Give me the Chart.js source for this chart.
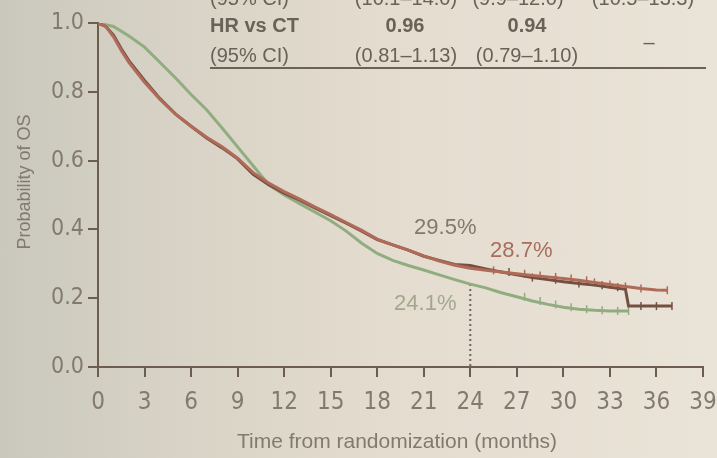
<!DOCTYPE html>
<html>
<head>
<meta charset="utf-8">
<script src="https://cdn.jsdelivr.net/npm/chart.js@4"></script>
<style>
html, body { margin: 0; padding: 0; }
body {
  width: 717px; height: 458px; overflow: hidden;
  background: linear-gradient(90deg, #cac8bd 0%, #d8d3c6 25%, #e4dccf 55%, #eae3d7 100%);
}
canvas { display: block; }
</style>
</head>
<body>
<canvas id="km" width="717" height="458"></canvas>
<script>
// Kaplan-Meier OS (months, probability)
const timeDark = [0, 0.5, 1, 1.5, 2, 3, 4, 5, 6, 7, 8, 9, 10, 11, 12, 13, 14, 15, 16, 17, 18, 19, 20, 21, 22, 23, 24, 25, 26, 27, 28, 29, 30, 31, 32, 33, 34, 34.2, 37];
const survDark = [1.0, 0.99, 0.965, 0.925, 0.89, 0.833, 0.78, 0.735, 0.70, 0.666, 0.637, 0.605, 0.56, 0.53, 0.505, 0.485, 0.462, 0.44, 0.418, 0.395, 0.37, 0.355, 0.34, 0.322, 0.31, 0.298, 0.295, 0.285, 0.276, 0.268, 0.26, 0.254, 0.248, 0.243, 0.238, 0.232, 0.226, 0.177, 0.177];

const timeRed = [0, 0.5, 1, 1.5, 2, 3, 4, 5, 6, 7, 8, 9, 10, 11, 12, 13, 14, 15, 16, 17, 18, 19, 20, 21, 22, 23, 24, 25, 26, 27, 28, 29, 30, 31, 32, 33, 34, 35, 36, 36.7];
const survRed = [1.0, 0.99, 0.96, 0.92, 0.885, 0.828, 0.778, 0.735, 0.70, 0.668, 0.64, 0.607, 0.565, 0.535, 0.51, 0.488, 0.465, 0.443, 0.42, 0.397, 0.372, 0.355, 0.34, 0.323, 0.308, 0.296, 0.287, 0.281, 0.276, 0.271, 0.266, 0.262, 0.257, 0.252, 0.246, 0.24, 0.234, 0.228, 0.224, 0.223];

const timeCT = [0, 1, 2, 3, 4, 5, 6, 7, 8, 9, 10, 11, 12, 13, 14, 15, 16, 17, 18, 19, 20, 21, 22, 23, 24, 25, 26, 27, 28, 29, 30, 31, 32, 33, 34.2];
const survCT = [1.0, 0.99, 0.962, 0.93, 0.885, 0.84, 0.792, 0.748, 0.695, 0.64, 0.585, 0.53, 0.5, 0.475, 0.45, 0.425, 0.395, 0.36, 0.33, 0.31, 0.295, 0.282, 0.268, 0.254, 0.241, 0.23, 0.216, 0.204, 0.192, 0.182, 0.174, 0.168, 0.165, 0.163, 0.163];

// censoring ticks (months)
const censorDark = [26.5, 28, 29.5, 31, 32.5, 33.5, 35, 36, 37];
const censorRed = [25.5, 26.5, 27.5, 28.5, 29.5, 30.5, 31.5, 32, 33, 34, 35, 36.7];
const censorCT = [27.5, 28.5, 29.5, 30.5, 31.5, 32.5, 33.5, 34.2];

// 24-month landmark rates
const landmarkMonth = 24;
const rate24 = [29.5, 28.7, 24.1];

const xTicks = [0, 39, 3];
const yTicks = [0, 1, 0.2];

// header table
const hrLabel = 'HR vs CT';
const hrValues = ['0.96', '0.94', '–'];
const ciLabel = '(95% CI)';
const ciValues = ['(0.81–1.13)', '(0.79–1.10)'];
const medianCI = ['(10.1–14.0)', '(9.9–12.0)', '(10.5–13.3)'];

const axisColor = '#6d5d50';
const textColor = '#837a6e';
const darkColor = '#745043';
const redColor = '#b06a58';
const ctColor = '#91ad80';
const FONT = "'Liberation Sans', Arial, sans-serif";
const NARROW = "'Liberation Sans Narrow', 'DejaVu Sans Condensed', sans-serif";

const pts = (ts, ss) => ts.map((t, i) => ({ x: t, y: ss[i] }));
const stepAt = (ts, ss, t) => {
  let v = ss[0];
  ts.forEach((tt, i) => { if (tt <= t) v = ss[i]; });
  return v;
};
const censorPts = (cs, ts, ss) => cs.map(c => ({ x: c, y: stepAt(ts, ss, c) }));

const curve = (data, color) => ({
  data, borderColor: color, borderWidth: 3, pointRadius: 0, tension: 0, fill: false
});
const censor = (data, color) => ({
  data, showLine: false, pointStyle: 'line', rotation: 90, pointRadius: 4,
  borderColor: color, borderWidth: 1.5
});

const overlay = {
  id: 'overlay',
  afterDraw(chart) {
    const { ctx, scales: { x, y } } = chart;
    ctx.save();
    ctx.textBaseline = 'alphabetic';

    // header table (cut off at top of slide)
    ctx.fillStyle = '#6a6157';
    ctx.font = `20px ${FONT}`;
    ctx.textAlign = 'left';
    ctx.fillText(ciLabel, 210, 5);
    ctx.textAlign = 'center';
    [406, 518, 643].forEach((cx, i) => ctx.fillText(medianCI[i], cx, 5));

    ctx.font = `bold 20px ${FONT}`;
    ctx.textAlign = 'left';
    ctx.fillText(hrLabel, 210, 32);
    ctx.textAlign = 'center';
    ctx.fillText(hrValues[0], 405, 32);
    ctx.fillText(hrValues[1], 527, 32);
    ctx.font = `20px ${FONT}`;
    ctx.fillText(hrValues[2], 649, 49);

    ctx.textAlign = 'left';
    ctx.fillText(ciLabel, 210, 62);
    ctx.textAlign = 'center';
    ctx.fillText(ciValues[0], 406, 62);
    ctx.fillText(ciValues[1], 527, 62);

    ctx.strokeStyle = '#6a6157';
    ctx.lineWidth = 2;
    ctx.beginPath();
    ctx.moveTo(210, 68);
    ctx.lineTo(706, 68);
    ctx.stroke();

    // landmark labels
    ctx.font = `22px ${FONT}`;
    ctx.textAlign = 'center';
    ctx.textBaseline = 'middle';
    const lx = x.getPixelForValue(landmarkMonth);
    ctx.fillStyle = '#85786a';
    ctx.fillText(rate24[0] + '%', lx - 25, y.getPixelForValue(rate24[0] / 100) - 38);
    ctx.fillStyle = '#a86d5c';
    ctx.fillText(rate24[1] + '%', lx + 51, y.getPixelForValue(rate24[1] / 100) - 17);
    ctx.fillStyle = '#a3a78f';
    ctx.fillText(rate24[2] + '%', lx - 45, y.getPixelForValue(rate24[2] / 100) + 20);

    // axis titles
    ctx.fillStyle = textColor;
    ctx.font = `21px ${FONT}`;
    ctx.fillText('Time from randomization (months)', 397, 442);
    ctx.translate(25, 182);
    ctx.rotate(-Math.PI / 2);
    ctx.font = `18px ${FONT}`;
    ctx.fillText('Probability of OS', 0, 0);
    ctx.restore();
  }
};

new Chart(document.getElementById('km'), {
  type: 'line',
  data: {
    datasets: [
      curve(pts(timeRed, survRed), redColor),
      curve(pts(timeDark, survDark), darkColor),
      curve(pts(timeCT, survCT), ctColor),
      censor(censorPts(censorRed, timeRed, survRed), redColor),
      censor(censorPts(censorDark, timeDark, survDark), darkColor),
      censor(censorPts(censorCT, timeCT, survCT), ctColor),
      {
        data: [{ x: landmarkMonth, y: rate24[2] / 100 }, { x: landmarkMonth, y: 0 }],
        borderColor: '#6f655a', borderWidth: 2, borderDash: [2, 3], pointRadius: 0
      }
    ]
  },
  options: {
    responsive: false,
    animation: false,
    devicePixelRatio: 1,
    layout: { padding: { top: 23, right: 0, left: 0, bottom: 0 } },
    plugins: { legend: { display: false }, tooltip: { enabled: false } },
    scales: {
      x: {
        type: 'linear', min: xTicks[0], max: xTicks[1],
        ticks: { stepSize: xTicks[2], color: textColor, font: { family: NARROW, size: 24 }, padding: 11, maxRotation: 0 },
        grid: { drawOnChartArea: false, drawTicks: true, tickLength: 10, color: axisColor, lineWidth: 2 },
        border: { color: axisColor, width: 2 },
        afterFit: s => { s.height = 91; s.paddingRight = 14; s.paddingLeft = 0; }
      },
      y: {
        min: yTicks[0], max: yTicks[1],
        ticks: { stepSize: yTicks[2], color: textColor, font: { family: NARROW, size: 23 }, padding: 4,
                 callback: v => v.toFixed(1) },
        grid: { drawOnChartArea: false, drawTicks: true, tickLength: 10, color: axisColor, lineWidth: 2 },
        border: { color: axisColor, width: 2 },
        afterFit: s => { s.width = 98; }
      }
    }
  },
  plugins: [overlay]
});
</script>
</body>
</html>
